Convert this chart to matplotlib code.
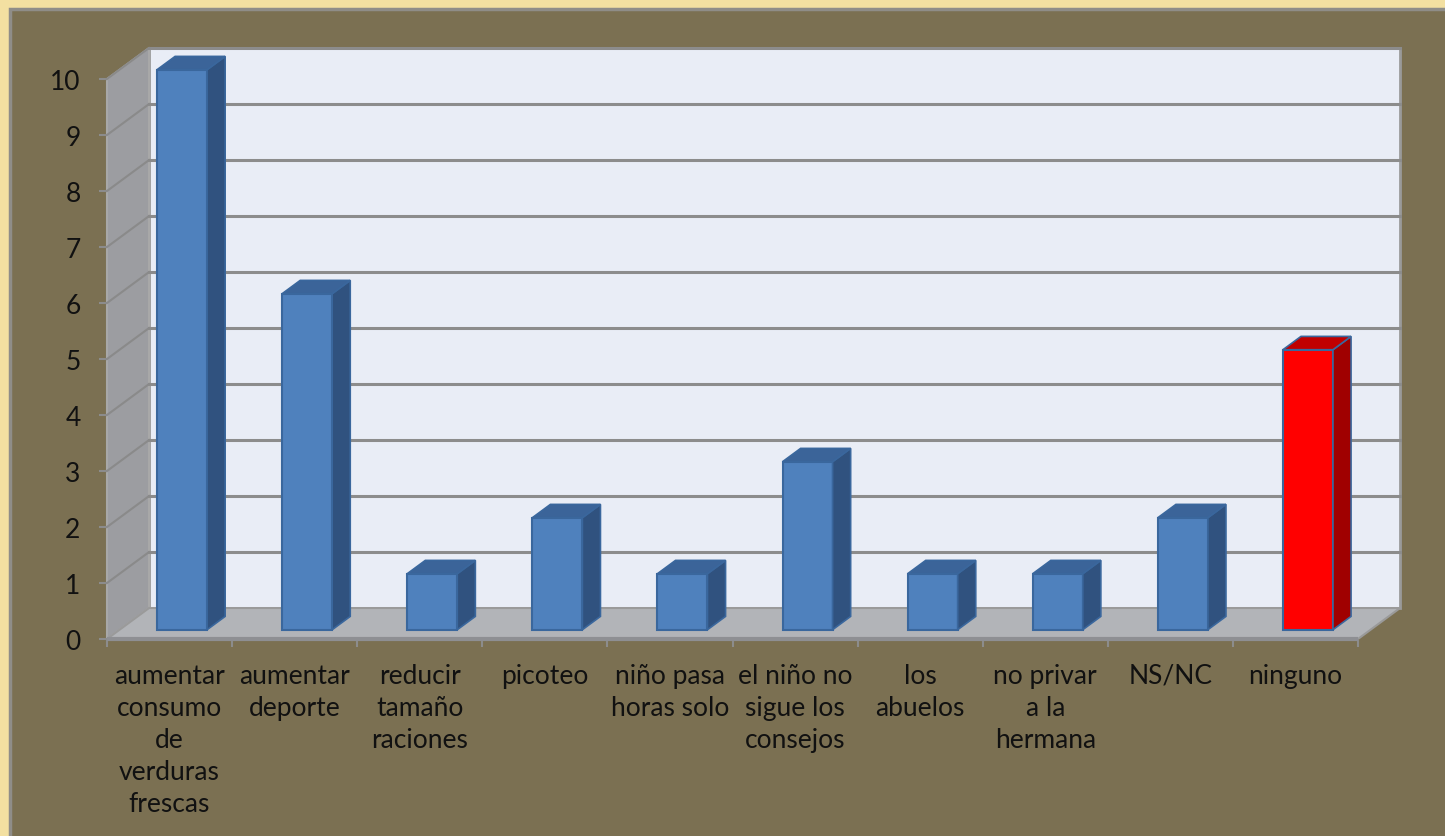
import matplotlib
matplotlib.use("Agg")
import matplotlib.pyplot as plt
from matplotlib.patches import Polygon, Rectangle
from matplotlib.ticker import FixedLocator, NullFormatter

# ---- data ----
categories = [
    "aumentar\nconsumo\nde\nverduras\nfrescas",
    "aumentar\ndeporte",
    "reducir\ntamaño\nraciones",
    "picoteo",
    "niño pasa\nhoras solo",
    "el niño no\nsigue los\nconsejos",
    "los\nabuelos",
    "no privar\na la\nhermana",
    "NS/NC",
    "ninguno",
]
values = [10, 6, 1, 2, 1, 3, 1, 1, 2, 5]
y_ticks = list(range(0, 11))
highlight = "ninguno"

# ---- styling ----
W, H = 1445, 837
FONT = "Lato"
GOLD = "#F3E0A1"
PANEL = "#7B7052"
BACK_WALL = "#E9EDF6"
SIDE_WALL = "#9C9DA1"
FLOOR = "#B2B4B8"
GRID = "#8C8C8C"

BLUE = ("#4F81BD", "#30527F", "#3B6499")   # front, side, top
RED = ("#FF0000", "#A00000", "#C00000")
EDGE = "#3A679D"

# oblique depth offsets (in data units) and bar depth placement
DX, DY = 0.336, 0.553
Z0, Z1 = 0.30, 0.73
BAR_L, BAR_R = 0.40, 0.80   # bar front face span inside a category slot

fig = plt.figure(figsize=(W / 100, H / 100), dpi=100)
fig.patch.set_facecolor(GOLD)

# olive panel behind the chart
bg = fig.add_axes([0, 0, 1, 1], zorder=-5)
bg.set_xlim(0, W)
bg.set_ylim(H, 0)
bg.axis("off")
bg.add_patch(Rectangle((10, 10), W, H, facecolor=PANEL,
                       edgecolor="#8F8D88", linewidth=2.5))

ax = fig.add_axes([107 / W, (H - 640) / H, 1251 / W, 560 / H], zorder=1)
ax.set_xlim(0, len(categories))
ax.set_ylim(0, 10)
ax.set_facecolor("none")
for s in ax.spines.values():
    s.set_visible(False)

n = len(categories)
ymax = max(y_ticks)

def add(poly, **kw):
    ax.add_patch(Polygon(poly, closed=True, clip_on=False, **kw))

# walls and floor
add([(DX, DY), (n + DX, DY), (n + DX, ymax + DY), (DX, ymax + DY)],
    facecolor=BACK_WALL, edgecolor="#9A9A9A", linewidth=2, zorder=1)
add([(0, 0), (DX, DY), (DX, ymax + DY), (0, ymax)],
    facecolor=SIDE_WALL, edgecolor="#A8A8A8", linewidth=1.5, zorder=1)
add([(0, 0), (n, 0), (n + DX, DY), (DX, DY)],
    facecolor=FLOOR, edgecolor="#9A9A9A", linewidth=1.5, zorder=1)
ax.plot([0, n], [0, 0], color="#8E8F93", linewidth=3, zorder=2,
        clip_on=False, solid_capstyle="butt")

# gridlines on back wall and side wall
for v in y_ticks[1:]:
    ax.plot([DX, n + DX], [v + DY, v + DY], color=GRID, linewidth=2.2,
            zorder=2, clip_on=False)
    ax.plot([0, DX], [v, v + DY], color="#8A8A8A", linewidth=1.5,
            zorder=2, clip_on=False)

# 3D bars
for i, (cat, val) in enumerate(zip(categories, values)):
    front, side, top = RED if cat == highlight else BLUE
    x0, x1 = i + BAR_L, i + BAR_R
    b0 = Z0 * DY
    sx, sy = (Z1 - Z0) * DX, (Z1 - Z0) * DY
    add([(x0, b0), (x1, b0), (x1, b0 + val), (x0, b0 + val)],
        facecolor=front, edgecolor=EDGE, linewidth=1.5, zorder=5)
    add([(x1, b0), (x1 + sx, b0 + sy), (x1 + sx, b0 + val + sy), (x1, b0 + val)],
        facecolor=side, edgecolor=EDGE, linewidth=1.2, zorder=5)
    add([(x0, b0 + val), (x1, b0 + val), (x1 + sx, b0 + val + sy),
         (x0 + sx, b0 + val + sy)],
        facecolor=top, edgecolor=EDGE, linewidth=1.2, zorder=5)

# axes ticks and labels
ax.set_yticks(y_ticks)
ax.set_yticklabels([str(v) for v in y_ticks], fontsize=19, family=FONT,
                   color="#111111")
ax.tick_params(axis="y", length=6, width=1.5, color="#8C8C8C", pad=13)

ax.set_xticks([i + 0.5 for i in range(n)])
ax.set_xticklabels(categories, fontsize=19, family=FONT, color="#111111",
                   linespacing=1.36, va="top")
ax.xaxis.set_minor_locator(FixedLocator(list(range(n + 1))))
ax.xaxis.set_minor_formatter(NullFormatter())
ax.tick_params(axis="x", which="major", length=0, pad=17)
ax.tick_params(axis="x", which="minor", length=6, width=1.5, color="#8C8C8C")

fig.savefig("out.png", dpi=100, facecolor=fig.get_facecolor())
